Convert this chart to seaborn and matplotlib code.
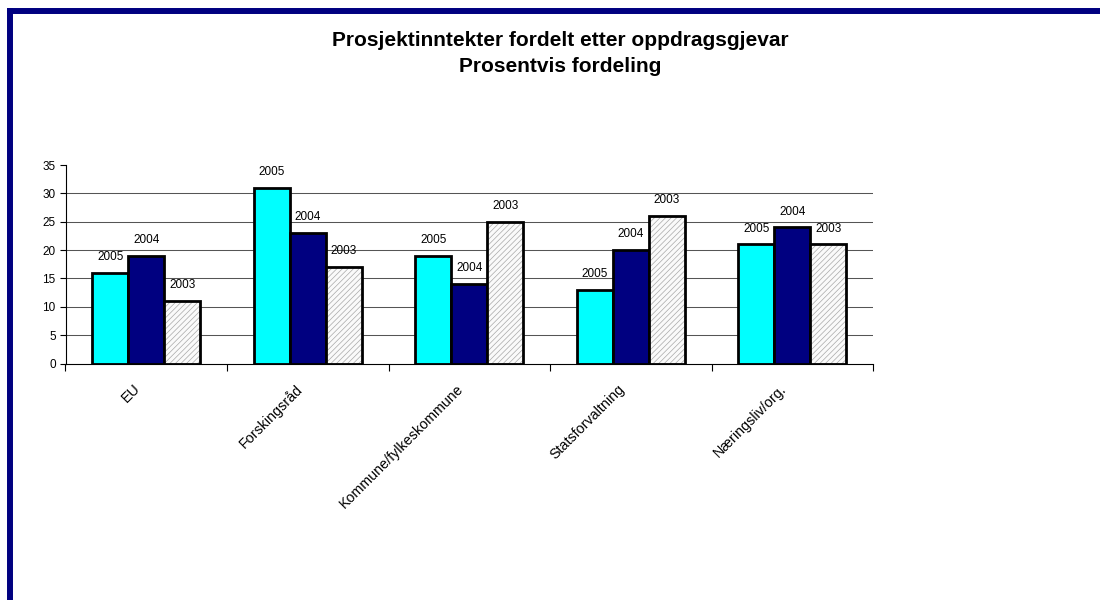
import matplotlib
matplotlib.use("Agg")
import matplotlib.pyplot as plt
from matplotlib.lines import Line2D
from matplotlib.colors import to_rgba
import matplotlib.transforms as mtransforms
import seaborn as sns
import pandas as pd
import numpy as np

categories = ["EU", "Forskingsråd", "Kommune/fylkeskommune", "Statsforvaltning", "Næringsliv/org."]
years = ["2005", "2004", "2003"]
v2005 = [16, 31, 19, 13, 21]
v2004 = [19, 23, 14, 20, 24]
v2003 = [11, 17, 25, 26, 21]
title_lines = ["Prosjektinntekter fordelt etter oppdragsgjevar", "Prosentvis fordeling"]

sns.set_theme(style="white")
plt.rcParams['font.family'] = ['Liberation Sans', 'DejaVu Sans']
plt.rcParams['hatch.linewidth'] = 0.5
plt.rcParams['text.color'] = 'black'
plt.rcParams['xtick.color'] = 'black'
plt.rcParams['ytick.color'] = 'black'

df = pd.DataFrame({
    "cat": categories * 3,
    "year": [years[0]] * 5 + [years[1]] * 5 + [years[2]] * 5,
    "val": v2005 + v2004 + v2003,
})

fig = plt.figure(figsize=(11, 6), dpi=100)
ax = fig.add_axes([65.5/1100, 1-363.5/600, (873-65.5)/1100, (363.5-165)/600])

palette = {"2005": "#00FFFF", "2004": "#000080", "2003": "#FAFAFA"}
sns.barplot(data=df, x="cat", y="val", hue="year", hue_order=years, order=categories,
            palette=palette, width=0.667, ax=ax, edgecolor="black", linewidth=2,
            legend=False, saturation=1)

hatch_col = to_rgba("#a8a8a8")
for i, cont in enumerate(ax.containers):
    for bar in cont:
        bar.set_zorder(3)
        if i == 2:
            bar.set_facecolor("#FAFAFA")
            bar.set_hatch("//////")
            if hasattr(bar, "set_hatchcolor"):
                bar.set_hatchcolor(hatch_col)
            else:
                bar._hatch_color = hatch_col
    ax.bar_label(cont, labels=[years[i]] * len(cont), padding=7, fontsize=8.5, color="black")

ax.set_ylim(0, 35)
ax.set_xlim(-0.5, 4.5)
ax.set_yticks(np.arange(0, 36, 5))
for y in range(5, 35, 5):
    ax.axhline(y, color="#555555", lw=0.75, zorder=1)

ax.set_xlabel("")
ax.set_ylabel("")
for s in ["top", "right"]:
    ax.spines[s].set_visible(False)
for s in ["left", "bottom"]:
    ax.spines[s].set_color("black")
    ax.spines[s].set_linewidth(0.8)
    ax.spines[s].set_zorder(4)

ax.tick_params(axis="y", which="major", left=True, length=4, width=0.8, color="black",
               labelsize=8.5, pad=3, labelcolor="black")
ax.set_xticks(np.arange(-0.5, 5, 1), minor=True)
ax.tick_params(axis="x", which="minor", bottom=True, length=5, width=0.8, color="black")
ax.tick_params(axis="x", which="major", bottom=False, length=0, pad=13, labelcolor="black")
ax.set_xticklabels(categories, rotation=45, ha="right", rotation_mode="anchor", fontsize=10.3)
shift = mtransforms.ScaledTranslation(-13/100, 0, fig.dpi_scale_trans)
for lbl in ax.get_xticklabels():
    lbl.set_transform(lbl.get_transform() + shift)

fig.text(560/1100, 1-40/600, title_lines[0], ha="center", va="center", fontsize=15, fontweight="bold", color="black")
fig.text(560/1100, 1-67/600, title_lines[1], ha="center", va="center", fontsize=15, fontweight="bold", color="black")

fig.add_artist(Line2D([9.5/1100, 1.0], [1-11/600, 1-11/600], transform=fig.transFigure,
                      color="#000080", lw=4.3, solid_capstyle="projecting"))
fig.add_artist(Line2D([9.5/1100, 9.5/1100], [0, 1-11/600], transform=fig.transFigure,
                      color="#000080", lw=4.3, solid_capstyle="projecting"))

fig.savefig("out.png", dpi=100)
